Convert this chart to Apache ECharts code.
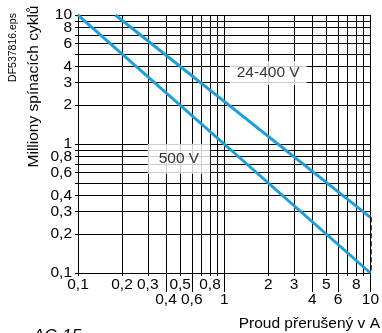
<!DOCTYPE html>
<html>
<head>
<meta charset="utf-8">
<script src="https://cdn.jsdelivr.net/npm/echarts@6/dist/echarts.min.js"></script>
<style>
  html, body { margin: 0; padding: 0; background: #fff; }
  #chart { width: 382px; height: 333px; }
</style>
</head>
<body>
<div id="chart"></div>
<script>
// curves (current in A, millions of cycles)
const amps400 = [0.18, 10];
const cycles400 = [10, 0.27];
const amps500 = [0.1, 10];
const cycles500 = [10, 0.1];

// curve labels
const curveNames = ["24-400 V", "500 V"];
const labelAmps = [2, 0.49];
const labelCycles = [3.55, 0.77];

// grid and tick values
const xGrid = [0.1, 0.2, 0.3, 0.4, 0.5, 0.6, 0.7, 0.8, 0.9, 1, 2, 3, 4, 5, 6, 7, 8, 9];
const yGrid = [0.1, 0.2, 0.3, 0.4, 0.5, 0.6, 0.7, 0.8, 0.9, 1, 2, 3, 4, 5, 6, 7, 8, 9, 10];
const xLabelsTop = [0.1, 0.2, 0.3, 0.5, 0.8, 2, 3, 5, 8];
const xLabelsBottom = [0.4, 0.6, 1, 4, 6, 10];
const yLabels = [0.1, 0.2, 0.3, 0.4, 0.6, 0.8, 1, 2, 3, 4, 6, 8];
const yLabelsTop = [10];

const FONT = "Liberation Sans, Arial, sans-serif";
const fmt = (v) => String(Math.round(v * 10) / 10).replace(".", ",");
const BLUE = "#1ba0dc";
const GRIDC = "#000";
const YMAX = 10.0001; // a hair over 10 so the 10 tick is kept

const chart = echarts.init(document.getElementById("chart"));

const labelStyle = { formatter: fmt, color: "#000", fontSize: 15.5, fontFamily: FONT };

const option = {
  animation: false,
  grid: { left: 78, right: 9.5, top: 15, bottom: 60 },
  xAxis: [
    {
      type: "log",
      logBase: 10,
      min: 0.1,
      max: 10,
      axisLine: { show: true, lineStyle: { color: "#000", width: 1 } },
      axisTick: { show: true, length: 3, customValues: xGrid.concat([10]), lineStyle: { color: "#000" } },
      axisLabel: { ...labelStyle, customValues: xLabelsTop, margin: 4 },
      splitLine: { show: true, lineStyle: { color: GRIDC, width: 1 } },
    },
    {
      type: "log",
      logBase: 10,
      min: 0.1,
      max: 10,
      position: "bottom",
      axisLine: { show: false },
      axisTick: { show: true, length: 19, customValues: xLabelsBottom, lineStyle: { color: "#000" } },
      axisLabel: { ...labelStyle, customValues: xLabelsBottom, margin: 19 },
      splitLine: { show: false },
    },
  ],
  yAxis: [
    {
      type: "log",
      logBase: 10,
      min: 0.1,
      max: YMAX,
      axisLine: { show: true, lineStyle: { color: "#000", width: 1 } },
      axisTick: { show: true, length: 3, customValues: yGrid, lineStyle: { color: "#000" } },
      axisLabel: { ...labelStyle, customValues: yLabels, margin: 6 },
      splitLine: { show: true, lineStyle: { color: GRIDC, width: 1 } },
    },
    {
      type: "log",
      logBase: 10,
      min: 0.1,
      max: YMAX,
      position: "left",
      axisLine: { show: false },
      axisTick: { show: false },
      axisLabel: { ...labelStyle, customValues: yLabelsTop, margin: 6 },
      splitLine: { show: false },
    },
  ],
  graphic: [
    {
      type: "text",
      rotation: Math.PI / 2,
      x: 13, y: 47.5,
      style: { text: "DF537816.eps", fill: "#000", font: "10.5px " + FONT, align: "center", verticalAlign: "middle" },
    },
    {
      type: "text",
      rotation: Math.PI / 2,
      x: 34, y: 86.5,
      style: { text: "Milliony spínacích cyklů", fill: "#000", font: "15.5px " + FONT, align: "center", verticalAlign: "middle" },
    },
    {
      type: "text",
      x: 380, y: 324,
      style: { text: "Proud přerušený v A", fill: "#000", font: "15.5px " + FONT, align: "right", verticalAlign: "middle" },
    },
    {
      type: "text",
      x: 33, y: 328,
      style: { text: "AC-15", fill: "#000", font: "italic 17px " + FONT, align: "left", verticalAlign: "top" },
    },
  ],
  series: [
    {
      name: curveNames[0],
      type: "line",
      symbol: "none",
      data: amps400.map((a, i) => [a, cycles400[i]]),
      lineStyle: { color: BLUE, width: 3 },
      z: 3,
      markLine: {
        silent: true,
        symbol: "none",
        label: { show: false },
        data: [
          [
            { coord: [10, 10], lineStyle: { color: GRIDC, width: 1, type: "solid" } },
            { coord: [10, cycles400[1]] },
          ],
          [
            { coord: [10, cycles400[1]], lineStyle: { color: "#000", width: 1.5, type: [5, 3] } },
            { coord: [10, 0.1] },
          ],
        ],
      },
    },
    {
      name: curveNames[1],
      type: "line",
      symbol: "none",
      data: amps500.map((a, i) => [a, cycles500[i]]),
      lineStyle: { color: BLUE, width: 3 },
      z: 3,
    },
    {
      type: "scatter",
      symbolSize: 0,
      z: 5,
      data: curveNames.map((n, i) => ({ value: [labelAmps[i], labelCycles[i]], name: n })),
      label: {
        show: true,
        position: "inside",
        formatter: (p) => p.name,
        color: "#000",
        fontSize: 15.5,
        fontFamily: FONT,
        backgroundColor: "#fff",
        padding: [4, 7],
      },
    },
  ],
};

option.series[2].data[1].label = { padding: [7, 11] };

chart.setOption(option);
</script>
</body>
</html>
